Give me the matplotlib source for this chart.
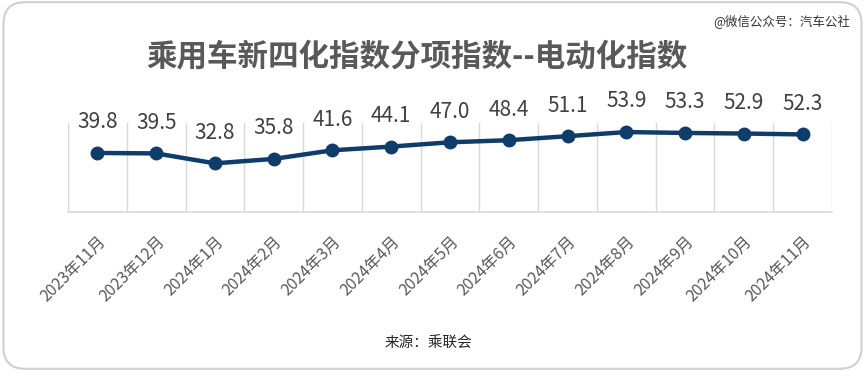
import matplotlib
matplotlib.use("Agg")
import matplotlib.pyplot as plt
from matplotlib.patches import FancyBboxPatch

plt.rcParams['font.family'] = ['Noto Sans CJK SC', 'DejaVu Sans']

months = ["2023年11月", "2023年12月", "2024年1月", "2024年2月", "2024年3月",
          "2024年4月", "2024年5月", "2024年6月", "2024年7月", "2024年8月",
          "2024年9月", "2024年10月", "2024年11月"]
values = [39.8, 39.5, 32.8, 35.8, 41.6, 44.1, 47.0, 48.4, 51.1, 53.9, 53.3, 52.9, 52.3]

line_color = "#0f3d6b"
grid_color = "#d9d9d9"

fig = plt.figure(figsize=(8.65, 3.71), dpi=100)
ax = fig.add_axes([68 / 865, (371 - 212) / 371, (832 - 68) / 865, (212 - 123) / 371])

# rounded frame around the whole picture
frame = FancyBboxPatch((0.004, 0.006), 0.992, 0.988, transform=fig.transFigure,
                       boxstyle="round,pad=0,rounding_size=0.025",
                       facecolor="none", edgecolor="#cfcfcf", linewidth=1.5,
                       mutation_aspect=865 / 371)
fig.patches.append(frame)

x = list(range(len(months)))
ax.plot(x, values, color=line_color, linewidth=3.2, marker="o", markersize=9,
        zorder=3, clip_on=False)

for xi, v in zip(x, values):
    ax.annotate(f"{v:.1f}", (xi, v), xytext=(0, 22), textcoords="offset points",
                ha="center", va="center", fontsize=15, color="#404040")

# vertical lines between categories
for b in range(len(months) + 1):
    ax.axvline(b - 0.5, color=grid_color, linewidth=1, zorder=1)

ax.set_xlim(-0.5, len(months) - 0.5)
ax.set_ylim(0, 60)
ax.set_yticks([])
for s in ["top", "left", "right"]:
    ax.spines[s].set_visible(False)
ax.spines["bottom"].set_color(grid_color)
ax.spines["bottom"].set_linewidth(1.2)

ax.set_xticks(x)
ax.set_xticklabels(months, rotation=45, ha="right", va="top",
                   rotation_mode="anchor", fontsize=11.5, color="#595959")
ax.tick_params(axis="x", length=0, pad=15)

fig.text(417 / 865, 1 - 56 / 371, "乘用车新四化指数分项指数--电动化指数",
         ha="center", va="center", fontsize=22, fontweight="bold", color="#595959")
fig.text(428 / 865, 1 - 343 / 371, "来源：乘联会", ha="center", va="center",
         fontsize=10.5, color="#262626")
fig.text(850 / 865, 1 - 21 / 371, "@微信公众号：汽车公社", ha="right", va="center",
         fontsize=9, color="#333333")

fig.savefig("out.png", dpi=100)
